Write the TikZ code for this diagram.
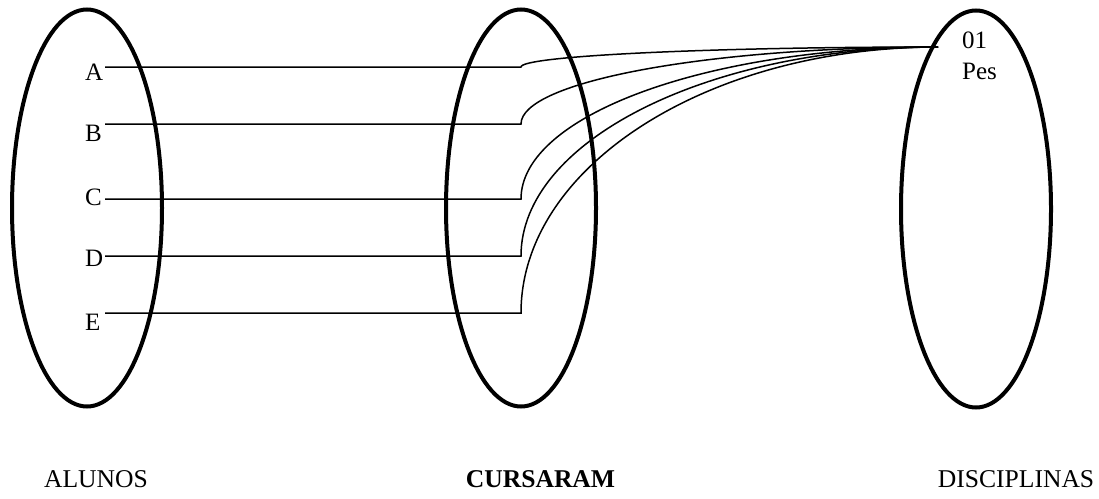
\documentclass[tikz,border=0pt]{standalone}
\usepackage{fontspec}
\setmainfont{Liberation Serif}
\usetikzlibrary{shapes.geometric}
\begin{document}
\begin{tikzpicture}[x=1pt,y=-1pt,
  setell/.style={ellipse, draw, line width=4pt, minimum width=150pt, minimum height=397pt, inner sep=0pt},
  conn/.style={line width=1.5pt},
  lbl/.style={font=\fontsize{25}{30}\selectfont, inner sep=0pt, anchor=base west},
  captext/.style={font=\fontsize{25.6}{30}\selectfont, inner sep=0pt, anchor=base}]
\useasboundingbox (0,0) rectangle (1099,498);
\node[setell] (alunosE) at (87,208) {};
\node[setell] (cursaramE) at (521,208) {};
\node[setell] (disciplinasE) at (976,209) {};
\coordinate (end) at (938,47);
\foreach \n/\ly/\by in {A/67/80, B/124/141, C/199/205, D/256/266, E/313/330}{
  \node[lbl] (l\n) at (85,\by) {\n};
  \coordinate (s\n) at (105,\ly);
  \coordinate (m\n) at (521,\ly);
  \draw[conn] (s\n) -- (m\n) .. controls (521,{\ly-0.552*(\ly-47)}) and (708,47) .. (end);
}
\node[lbl] (t01) at (962,48) {01};
\node[lbl] (tpes) at (962,79) {Pes};
\node[captext] (alunos) at (96,487) {ALUNOS};
\node[captext] (cursaram) at (540.5,487) {\bfseries CURSARAM};
\node[captext] (disciplinas) at (1016,487) {DISCIPLINAS};
\end{tikzpicture}
\end{document}
